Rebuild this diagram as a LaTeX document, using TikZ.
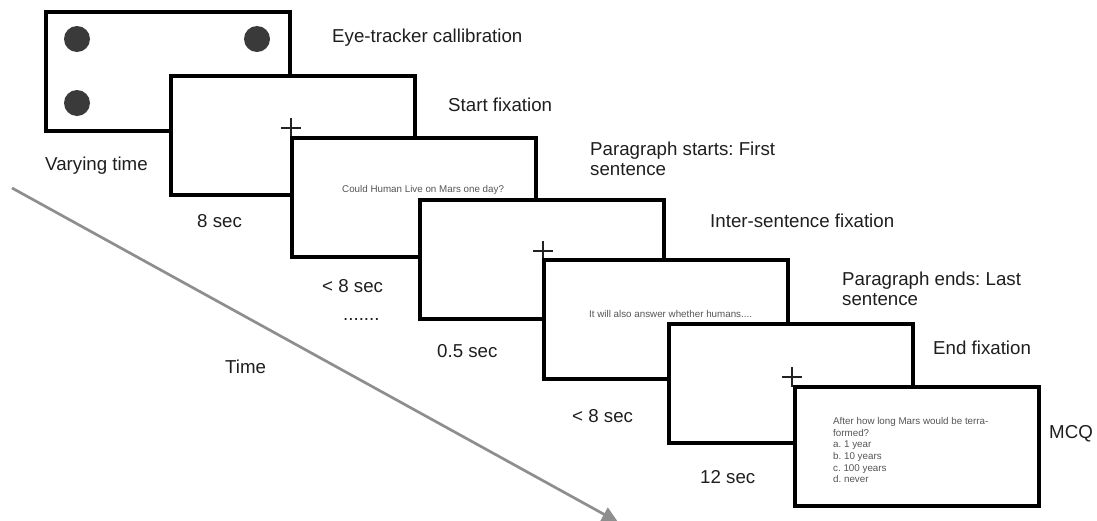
\documentclass[tikz,border=0pt]{standalone}
\usepackage{fontspec}
\setmainfont{Liberation Sans}
\usetikzlibrary{arrows.meta}
\definecolor{dotgray}{HTML}{3A3A3A}
\definecolor{textgray}{HTML}{555555}
\definecolor{arrowgray}{HTML}{8E8E8E}
\definecolor{labelblack}{HTML}{1E1E1E}
\definecolor{crossblack}{HTML}{222222}
\frenchspacing
\begin{document}
\begin{tikzpicture}[x=1pt,y=-1pt,
  screen/.style={draw=black, line width=4pt, fill=white, minimum width=244pt,
    minimum height=118.5pt, inner sep=0pt, anchor=north west},
  lbl/.style={inner sep=0pt, anchor=base west, text=labelblack,
    font=\fontsize{18.7}{20}\selectfont},
  lblml/.style={inner sep=0pt, anchor=north west, text=labelblack, align=left,
    font=\fontsize{18.7}{20}\selectfont},
  small/.style={inner sep=0pt, anchor=base west, text=textgray,
    font=\fontsize{9.8}{11.6}\selectfont},
  smallml/.style={inner sep=0pt, anchor=north west, text=textgray, align=left,
    font=\fontsize{9.8}{11.6}\selectfont},
  fixcross/.style={draw=crossblack, line width=2.5pt},
  dot/.style={fill=dotgray, draw=none, circle, minimum size=26pt, inner sep=0pt}
]
\useasboundingbox (0,0) rectangle (1097,520);

% time arrow
\coordinate (t0) at (12,188);
\coordinate (t1) at (618,522);
\draw[arrowgray, line width=2.7pt, -{Triangle[length=16pt,width=15pt]}] (t0) -- (t1);

% screen 1: calibration
\node[screen] (s1) at (44,10) {};
\node[dot] (d1) at (77,39) {};
\node[dot] (d2) at (257,39) {};
\node[dot] (d3) at (77,103) {};

% screen 2: start fixation
\node[screen] (s2) at (169,74) {};
\coordinate (c2) at (291,128);
\draw[fixcross] ([xshift=-10pt]c2) -- ([xshift=10pt]c2);
\draw[fixcross] ([yshift=-10pt]c2) -- ([yshift=10pt]c2);

% screen 3: first sentence
\node[screen] (s3) at (290,136) {};
\node[small] (q1) at (342,192) {Could Human Live on Mars one day?};

% screen 4: inter-sentence fixation
\node[screen] (s4) at (418,198) {};
\coordinate (c4) at (543,251);
\draw[fixcross] ([xshift=-10pt]c4) -- ([xshift=10pt]c4);
\draw[fixcross] ([yshift=-10pt]c4) -- ([yshift=10pt]c4);

% screen 5: last sentence
\node[screen] (s5) at (542,258) {};
\node[small] (q2) at (589,317) {It will also answer whether humans....};

% screen 6: end fixation
\node[screen] (s6) at (667,322) {};
\coordinate (c6) at (792,377);
\draw[fixcross] ([xshift=-10pt]c6) -- ([xshift=10pt]c6);
\draw[fixcross] ([yshift=-10pt]c6) -- ([yshift=10pt]c6);

% screen 7: MCQ
\node[screen] (s7) at (793,385) {};
\node[smallml] (q3) at (833,417.4) {After how long Mars would be terra-\\formed?\\a. 1 year\\b. 10 years\\c. 100 years\\d. never};

% labels
\node[lbl] (l1) at (332,42.5) {Eye-tracker callibration};
\node[lbl] (l2) at (448,111) {Start fixation};
\node[lblml] (l3) at (590,141.5) {Paragraph starts: First\\sentence};
\node[lbl] (l4) at (710,227) {Inter-sentence fixation};
\node[lblml] (l5) at (842,271.5) {Paragraph ends: Last\\sentence};
\node[lbl] (l6) at (933,354) {End fixation};
\node[lbl] (l7) at (1049,438) {MCQ};

\node[lbl] (v1) at (45,170) {Varying time};
\node[lbl] (v2) at (197,227) {8 sec};
\node[lbl] (v3) at (322,292) {< 8 sec};
\node[lbl] (v4) at (343,320) {.......};
\node[lbl] (v5) at (437,357) {0.5 sec};
\node[lbl] (v6) at (225,373) {Time};
\node[lbl] (v7) at (572,422) {< 8 sec};
\node[lbl] (v8) at (700,483) {12 sec};
\end{tikzpicture}
\end{document}
